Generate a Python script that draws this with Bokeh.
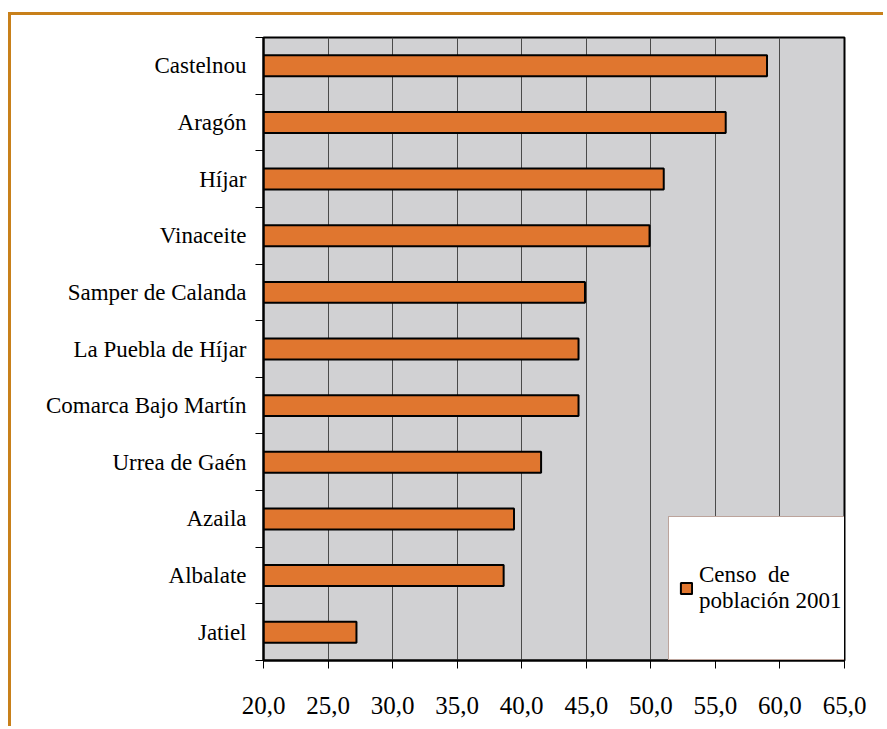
from bokeh.plotting import figure
from bokeh.models import Range1d, FixedTicker, Legend, LegendItem
from bokeh.embed import file_html
from bokeh.resources import INLINE

# Data (top to bottom as in the chart)
categories = ["Castelnou", "Aragón", "Híjar", "Vinaceite", "Samper de Calanda",
              "La Puebla de Híjar", "Comarca Bajo Martín", "Urrea de Gaén",
              "Azaila", "Albalate", "Jatiel"]
values = [59.0, 55.8, 51.0, 49.9, 44.9, 44.4, 44.4, 41.5, 39.4, 38.6, 27.2]
x_ticks = [20, 25, 30, 35, 40, 45, 50, 55, 60, 65]
x_tick_labels = ["20,0", "25,0", "30,0", "35,0", "40,0", "45,0", "50,0", "55,0", "60,0", "65,0"]
series_name = "Censo  de\npoblación 2001"

n = len(categories)
ys = [n - 1 - i + 0.5 for i in range(n)]
boundaries = list(range(0, n + 1))

p = figure(width=875, height=714, x_range=Range1d(20, 65), y_range=Range1d(0, n),
           output_backend="svg", toolbar_location=None,
           min_border_left=252, min_border_right=42, min_border_top=22, min_border_bottom=69)
p.styles = {"margin-top": "12px", "margin-left": "8px",
            "border-top": "3px solid #C8801A", "border-left": "3px solid #C8801A"}

p.background_fill_color = "#D1D1D3"
p.border_fill_color = "white"
p.outline_line_color = "black"
p.outline_line_width = 2

r = p.hbar(y=ys, left=20, right=values, height=0.37, fill_color="#E0762F",
           line_color="black", line_width=2)

# X axis
p.xaxis.ticker = FixedTicker(ticks=x_ticks)
p.xaxis.major_label_overrides = {t: l for t, l in zip(x_ticks, x_tick_labels)}
p.xaxis.axis_line_color = "black"
p.xaxis.axis_line_width = 2
p.xaxis.major_tick_in = 0
p.xaxis.major_tick_out = 8
p.xaxis.major_tick_line_color = "black"
p.xaxis.minor_tick_line_color = None
p.xaxis.major_label_text_font = "Liberation Serif"
p.xaxis.major_label_text_font_size = "25px"
p.xaxis.major_label_text_color = "black"
p.xaxis.major_label_standoff = 28

# Y axis
p.yaxis.ticker = FixedTicker(ticks=ys, minor_ticks=boundaries)
p.yaxis.major_label_overrides = {y: c for y, c in zip(ys, categories)}
p.yaxis.axis_line_color = "black"
p.yaxis.axis_line_width = 2
p.yaxis.major_tick_line_color = None
p.yaxis.minor_tick_line_color = "black"
p.yaxis.minor_tick_in = 0
p.yaxis.minor_tick_out = 8
p.yaxis.major_label_text_font = "Liberation Serif"
p.yaxis.major_label_text_font_size = "23px"
p.yaxis.major_label_text_color = "black"
p.yaxis.major_label_standoff = 9

# Grid
p.xgrid.ticker = FixedTicker(ticks=x_ticks)
p.xgrid.grid_line_color = "#4a4a4a"
p.xgrid.grid_line_width = 1
p.ygrid.grid_line_color = None

legend = Legend(items=[LegendItem(label=series_name, renderers=[r])],
                location=(405, 0), margin=0, padding=10,
                glyph_width=14, glyph_height=14, label_standoff=6,
                label_width=138, label_height=122,
                label_text_font="Liberation Serif", label_text_font_size="23px",
                label_text_color="black",
                border_line_color="#7a4a3a", border_line_width=1,
                background_fill_color="white", background_fill_alpha=1.0)
p.add_layout(legend)

open("out.html", "w").write(file_html(p, INLINE))
